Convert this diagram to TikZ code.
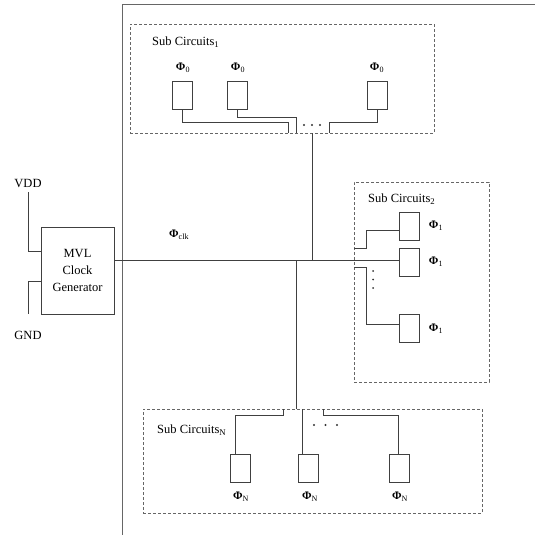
\documentclass[tikz,border=0pt]{standalone}
\usepackage{fontspec}
\setmainfont{Liberation Serif}
\begin{document}
\begin{tikzpicture}[x=1pt,y=-1pt,
  wire/.style={draw=black!75, line width=0.8pt},
  grp/.style={draw=black!60, line width=0.8pt, dash pattern=on 3pt off 2pt},
  cell/.style={draw=black!75, line width=0.8pt, minimum width=20pt, minimum height=28pt, inner sep=0pt},
  lbl/.style={font=\fontsize{12.5}{14}\selectfont, inner sep=0pt},
  phi/.style={font=\fontsize{11.5}{13}\selectfont, inner sep=0pt},
  dot/.style={circle, fill=black!80, inner sep=0pt, minimum size=2.2pt}]
\useasboundingbox (0,0) rectangle (535,535);

% frame
\coordinate (fb) at (122,535);
\coordinate (ft) at (122,4);
\coordinate (fr) at (535,4);
\draw[draw=black!60, line width=0.9pt] (fb) -- (ft) -- (fr);

% generator
\node[draw=black!75, line width=0.8pt, minimum width=73pt, minimum height=87pt, inner sep=0pt,
      align=center, font=\fontsize{12.5}{17}\selectfont] (gen) at (77.5,270.5) {MVL\\Clock\\Generator};
\node[lbl] (vdd) at (28,183) {VDD};
\node[lbl] (gnd) at (28,335) {GND};
\draw[wire] (28,192) -- (28,251) -- (gen.west |- 0,251);
\draw[wire] (gen.west |- 0,281) -- (28,281) -- (28,314);

% Sub Circuits 1
\node[grp, minimum width=304pt, minimum height=109pt, inner sep=0pt] (sc1) at (282,78.5) {};
\node[lbl, anchor=west] (sc1t) at (152,42) {Sub Circuits\textsubscript{1}};
\node[cell] (a1) at (182.5,95) {};
\node[cell] (a2) at (237,95) {};
\node[cell] (a3) at (377.5,95) {};
\node[phi] (pa1) at (183,68) {\textbf{Φ}\textsubscript{0}};
\node[phi] (pa2) at (238,68) {\textbf{Φ}\textsubscript{0}};
\node[phi] (pa3) at (377,68) {\textbf{Φ}\textsubscript{0}};
\draw[wire] (a1.south) -- (182.5,122) -- (288,122) -- (288,133);
\draw[wire] (a2.south) -- (237,117) -- (296,117) -- (296,133);
\draw[wire] (a3.south) -- (377.5,122) -- (329,122) -- (329,133);
\node[dot] (d11) at (304,125) {};
\node[dot] (d12) at (312,125) {};
\node[dot] (d13) at (320,125) {};

% Sub Circuits 2
\node[grp, minimum width=135pt, minimum height=200pt, inner sep=0pt] (sc2) at (421.5,282) {};
\node[lbl, anchor=west] (sc2t) at (368,199) {Sub Circuits\textsubscript{2}};
\node[cell] (b1) at (409,226) {};
\node[cell] (b2) at (409,262) {};
\node[cell] (b3) at (409,328) {};
\node[phi] (pb1) at (436,226) {\textbf{Φ}\textsubscript{1}};
\node[phi] (pb2) at (436,262) {\textbf{Φ}\textsubscript{1}};
\node[phi] (pb3) at (436,329) {\textbf{Φ}\textsubscript{1}};
\draw[wire] (354,248) -- (366,248) -- (366,230) -- (b1.west |- 0,230);
\draw[wire] (354,267) -- (366,267) -- (366,324) -- (b3.west |- 0,324);
\node[dot, minimum size=2pt] (d21) at (373,271) {};
\node[dot, minimum size=2pt] (d22) at (373,279.5) {};
\node[dot, minimum size=2pt] (d23) at (373,288) {};

% Sub Circuits N
\node[grp, minimum width=339pt, minimum height=104pt, inner sep=0pt] (scn) at (312.5,461) {};
\node[lbl, anchor=west] (scnt) at (157,430) {Sub Circuits\textsubscript{N}};
\node[cell] (c1) at (240.5,468) {};
\node[cell] (c2) at (308.5,468) {};
\node[cell] (c3) at (399,468) {};
\node[phi] (pc1) at (241,497) {\textbf{Φ}\textsubscript{N}};
\node[phi] (pc2) at (310,497) {\textbf{Φ}\textsubscript{N}};
\node[phi] (pc3) at (400,497) {\textbf{Φ}\textsubscript{N}};
\draw[wire] (283,409) -- (283,415) -- (235,415) -- (235,454);
\draw[wire] (302,409) -- (302,454);
\draw[wire] (323,409) -- (323,415) -- (398,415) -- (398,454);
\node[dot] (d31) at (314,425) {};
\node[dot] (d32) at (325.5,425) {};
\node[dot] (d33) at (337,425) {};

% clock bus
\coordinate (j1) at (312,260);
\coordinate (j2) at (296,260);
\draw[wire] (gen.east |- j1) -- (b2.west |- j1);
\draw[wire] (j1) -- (312,133);
\draw[wire] (j2) -- (296,409);
\node[phi, anchor=west] (pclk) at (169,235) {\textbf{Φ}\textsubscript{clk}};
\end{tikzpicture}
\end{document}
